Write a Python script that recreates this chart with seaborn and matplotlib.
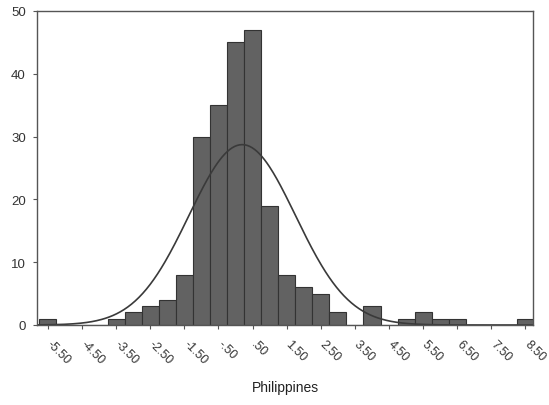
import numpy as np
import pandas as pd
import matplotlib
matplotlib.use("Agg")
import matplotlib.pyplot as plt
import matplotlib.transforms as mtransforms
import seaborn as sns

# bin midpoints (width 0.5) and counts
bin_centers = [-5.5, -5.0, -4.5, -4.0, -3.5, -3.0, -2.5, -2.0, -1.5, -1.0, -0.5,
               0.0, 0.5, 1.0, 1.5, 2.0, 2.5, 3.0, 3.5, 4.0, 4.5, 5.0, 5.5,
               6.0, 6.5, 7.0, 7.5, 8.0, 8.5]
counts = [1, 0, 0, 0, 1, 2, 3, 4, 8, 30, 35,
          45, 47, 19, 8, 6, 5, 2, 0, 3, 0, 1, 2,
          1, 1, 0, 0, 0, 1]
tick_values = [-5.5, -4.5, -3.5, -2.5, -1.5, -0.5, 0.5, 1.5, 2.5, 3.5, 4.5, 5.5, 6.5, 7.5, 8.5]
tick_labels = ["-5.50", "-4.50", "-3.50", "-2.50", "-1.50", "-.50", ".50", "1.50",
               "2.50", "3.50", "4.50", "5.50", "6.50", "7.50", "8.50"]
y_ticks = [0, 10, 20, 30, 40, 50]
x_title = "Philippines"

bin_width = 0.5
df = pd.DataFrame({"x": bin_centers, "n": counts})

sns.set_style("white")
plt.rcParams["font.family"] = ["Liberation Sans", "DejaVu Sans"]

fig = plt.figure(figsize=(5.49, 4.06), dpi=100)
ax = fig.add_axes([37 / 549, 1 - 326 / 406, 496 / 549, (326 - 12) / 406])

sns.histplot(data=df, x="x", weights="n", binwidth=bin_width,
             binrange=(bin_centers[0] - bin_width / 2, bin_centers[-1] + bin_width / 2),
             ax=ax, color="#626262", edgecolor="#333333", linewidth=0.8, alpha=1.0)

# fitted normal curve (from the binned data)
c = np.array(counts, float)
xv = np.array(bin_centers, float)
N = c.sum()
mu = (c * xv).sum() / N
sd = np.sqrt((c * (xv - mu) ** 2).sum() / N)
xs = np.linspace(-5.82, 8.72, 400)
ys = N * bin_width / (sd * np.sqrt(2 * np.pi)) * np.exp(-0.5 * ((xs - mu) / sd) ** 2)
sns.lineplot(x=xs, y=ys, ax=ax, color="#3a3a3a", linewidth=1.2)

ax.set_xlim(-5.82, 8.72)
ax.set_ylim(0, 50)
ax.set_xticks(tick_values)
ax.set_xticklabels(tick_labels, rotation=-45, ha="left", va="top",
                   rotation_mode="anchor", fontsize=9, color="#333333")
ax.set_yticks(y_ticks)
ax.set_yticklabels([str(v) for v in y_ticks], fontsize=9.5, color="#333333")
ax.tick_params(axis="both", direction="out", length=3, width=0.8, color="#555555",
               bottom=True, left=True)
ax.tick_params(axis="x", pad=6)
ax.tick_params(axis="y", pad=5)
offset = mtransforms.ScaledTranslation(5 / 100, 0, fig.dpi_scale_trans)
for lbl in ax.get_xticklabels():
    lbl.set_transform(lbl.get_transform() + offset)
ax.set_ylabel("")
ax.set_xlabel("")
for s in ax.spines.values():
    s.set_visible(True)
    s.set_color("#555555")
    s.set_linewidth(1.0)

fig.text(285 / 549, 1 - 388 / 406, x_title, ha="center", va="center",
         fontsize=10, color="#222222")

fig.savefig("out.png", dpi=100)
